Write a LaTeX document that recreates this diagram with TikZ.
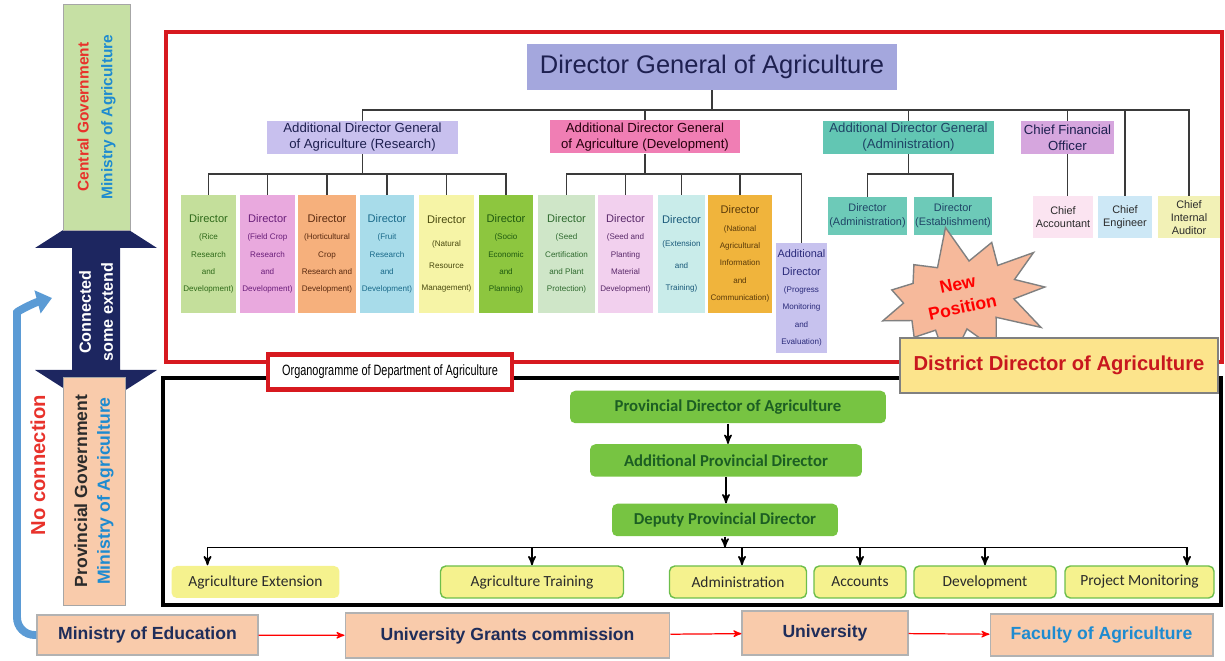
\documentclass[tikz,border=0pt]{standalone}
\usepackage{fontspec}
\usepackage{xcolor}
\usepackage{graphicx}
\setmainfont{Liberation Sans}
\newfontfamily\calibri{Carlito}
\usetikzlibrary{calc}
\usetikzlibrary{shapes,arrows,arrows.meta}
\usetikzlibrary{positioning}

\definecolor{govred}{HTML}{E8322B}
\definecolor{govblue}{HTML}{1E8BD0}
\definecolor{navy}{HTML}{1D2660}
\definecolor{frmred}{HTML}{D7191F}
\definecolor{skyarrow}{HTML}{5B9BD5}
\definecolor{peach}{HTML}{F9CBAB}
\definecolor{cgreen}{HTML}{C6E0A4}
\definecolor{darktxt}{HTML}{2B2B2B}
\definecolor{dgfill}{HTML}{A4A7DD}
\definecolor{dgtxt}{HTML}{1E2050}
\definecolor{resfill}{HTML}{C8C0EE}
\definecolor{devfill}{HTML}{F07EB4}
\definecolor{admfill}{HTML}{62C6B3}
\definecolor{admsub}{HTML}{6DCAB8}
\definecolor{admtxt}{HTML}{1F4466}
\definecolor{cfofill}{HTML}{D6A6DE}
\definecolor{accfill}{HTML}{FBE4F1}
\definecolor{engfill}{HTML}{CDE8F6}
\definecolor{audfill}{HTML}{F2F1B6}
\definecolor{ddafill}{HTML}{FCE48C}
\definecolor{ddared}{HTML}{C8171E}
\definecolor{starfill}{HTML}{F6B99B}
\definecolor{provgreen}{HTML}{77C442}
\definecolor{provtxt}{HTML}{1C5E23}
\definecolor{sectyellow}{HTML}{F5F28E}
\definecolor{sectgreen}{HTML}{6DBE4B}
\definecolor{edutxt}{HTML}{1F2D5A}
\definecolor{treeline}{HTML}{3A3A3A}

\newcommand{\fs}[2]{\fontsize{#1}{#2}\selectfont}
\newcommand{\Dhead}{{\fontsize{6.3}{9.9}\selectfont Director}}

\tikzstyle{govbox}=[rotate=90, draw=gray!70, line width=0.5pt, align=center, inner sep=1pt]
\tikzstyle{lvl}=[align=center, inner sep=1pt]
\tikzstyle{adg}=[align=center, inner sep=1pt, minimum height=0.66cm, font=\fs{7.5}{9}, text=dgtxt]
\tikzstyle{admdir}=[align=center, inner sep=0.5pt, fill=admsub, minimum width=1.58cm, minimum height=0.76cm, font=\fs{6.2}{8}, text=admtxt]
\tikzstyle{chief}=[align=center, inner sep=0.5pt, minimum height=0.84cm, font=\fs{6.2}{7.5}, text=darktxt]
\tikzstyle{dirbox}=[align=center, inner sep=0.5pt, minimum width=1.12cm, minimum height=2.36cm, font=\fs{4.6}{9.9}]
\tikzstyle{tree}=[draw=treeline, line width=1.1pt]
\tikzstyle{prov}=[fill=provgreen, rounded corners=3pt, text=provtxt, minimum height=0.65cm, font=\calibri\bfseries\fs{9.5}{11}]
\tikzstyle{sect}=[fill=sectyellow, draw=sectgreen, line width=0.8pt, rounded corners=3pt, minimum height=0.64cm, text=darktxt, font=\calibri\fs{8.8}{10}]
\tikzstyle{edu}=[fill=peach, draw=gray!60, line width=0.6pt, text=edutxt, font=\bfseries\fs{10}{12}]
\tikzstyle{arr}=[->, >=stealth', line width=0.9pt]

\begin{document}
\begin{tikzpicture}[x=0.02cm, y=-0.02cm]
\useasboundingbox (0,0) rectangle (1225,661);

% the two frames
\draw[line width=2.3pt, color=frmred] (166,32) rectangle (1222,362);
\draw[line width=2.3pt] (163,378) rectangle (1221,605);

% left column
\fill[navy] (96,209) -- (157,248) -- (120,248) -- (120,370) -- (157,370) -- (96,409)
  -- (35,370) -- (72,370) -- (72,248) -- (35,248) -- cycle;
\node[govbox, fill=cgreen, minimum width=4.52cm, minimum height=1.34cm, font=\bfseries\fs{8.8}{13.6}] (cg) at (96.5,117)
  {\textcolor{govred}{Central Government}\\\textcolor{govblue}{Ministry of Agriculture}};
\node[govbox, fill=peach, minimum width=4.56cm, minimum height=1.24cm, font=\bfseries\fs{10}{13}] (pg) at (94,491)
  {\textcolor{darktxt}{Provincial Government}\\\textcolor{govblue}{Ministry of Agriculture}};
\node[rotate=90, align=center, text=white, font=\bfseries\fs{9.2}{12.5}] (link) at (96,312) {Connected\\some extend};
\node[rotate=90, text=govred, font=\bfseries\fs{11.5}{13}] (nocon) at (38,465) {No connection};

% ministry of education line
\node[edu, minimum width=4.42cm, minimum height=0.8cm] (moe) at (147.5,635) {Ministry of Education};
\node[edu, minimum width=6.5cm, minimum height=0.9cm] (ugc) at (507.5,635.5) {University Grants commission};
\node[edu, minimum width=3.32cm, minimum height=0.88cm] (uni) at (825,633) {University};
\node[edu, minimum width=4.46cm, minimum height=0.84cm, text=govblue] (foa) at (1101.5,635) {Faculty of Agriculture};
\draw[->, >=stealth', color=red, line width=0.7pt] (moe) -- (ugc);
\draw[->, >=stealth', color=red, line width=0.7pt] (ugc) -- (uni);
\draw[->, >=stealth', color=red, line width=0.7pt] (uni) -- (foa);

\coordinate (noconn) at (52,298);
\draw[line width=4.5pt, color=skyarrow, rounded corners=10pt, -{Triangle[width=0.46cm, length=0.3cm]}]
  (moe.west) -- (17,635) -- (17,330) to[out=90, in=195] (noconn);

% national level
\node[lvl, fill=dgfill, minimum width=7.4cm, minimum height=0.92cm, text=dgtxt, font=\fs{14.5}{17}] (dg) at (712,67) {Director General of Agriculture};
\node[adg, fill=resfill, minimum width=3.82cm] (adgr) at (362.5,137.5) {Additional Director General\\of Agriculture (Research)};
\node[adg, fill=devfill, minimum width=3.8cm, text=black!80!purple] (adgd) at (645,137) {Additional Director General\\of Agriculture (Development)};
\node[adg, fill=admfill, minimum width=3.42cm, text=admtxt] (adga) at (908.5,137.5) {Additional Director General\\(Administration)};
\node[adg, fill=cfofill, minimum width=1.86cm] (cfo) at (1067.5,137.5) {Chief Financial\\Officer};

\node[chief, fill=accfill, minimum width=1.2cm] (cacc) at (1063,217.5) {Chief\\Accountant};
\node[chief, fill=engfill, minimum width=1.08cm] (ceng) at (1125,217.5) {Chief\\Engineer};
\node[chief, fill=audfill, minimum width=1.24cm] (caud) at (1189,217.5) {Chief\\Internal\\Auditor};

\node[admdir] (dadm) at (867.5,216) {Director\\(Administration)};
\node[admdir] (dest) at (953,216) {Director\\(Establishment)};

% research directors
\node[dirbox, fill={rgb,255:red,196;green,223;blue,155}, text={rgb,255:red,47;green,106;blue,26}] (drice) at (208.5,254) {\Dhead\\(Rice\\Research\\and\\Development)};
\node[dirbox, fill={rgb,255:red,233;green,169;blue,222}, text={rgb,255:red,106;green,31;blue,122}] (dfield) at (267.5,254) {\Dhead\\(Field Crop\\Research\\and\\Development)};
\node[dirbox, fill={rgb,255:red,246;green,176;blue,124}, text={rgb,255:red,90;green,42;blue,16}, minimum width=1.16cm] (dhort) at (327,254) {\Dhead\\(Horticultural\\Crop\\Research and\\Development)};
\node[dirbox, fill={rgb,255:red,168;green,220;blue,234}, text={rgb,255:red,26;green,106;blue,138}, minimum width=1.08cm] (dfruit) at (387,254) {\Dhead\\(Fruit\\Research\\and\\Development)};
\node[dirbox, fill={rgb,255:red,246;green,244;blue,166}, text={rgb,255:red,74;green,74;blue,16}, font=\fs{4.6}{12.6}] (dnat) at (446.5,254) {\Dhead\\(Natural\\Resource\\Management)};
\node[dirbox, fill={rgb,255:red,141;green,198;blue,63}, text={rgb,255:red,31;green,90;blue,16}, minimum width=1.08cm] (dsocio) at (506,254) {\Dhead\\(Socio\\Economic\\and\\Planning)};

% development directors
\node[dirbox, fill={rgb,255:red,207;green,230;blue,200}, text={rgb,255:red,47;green,106;blue,47}, minimum width=1.14cm] (dseed) at (566.5,254) {\Dhead\\(Seed\\Certification\\and Plant\\Protection)};
\node[dirbox, fill={rgb,255:red,242;green,208;blue,238}, text={rgb,255:red,90;green,42;blue,106}, minimum width=1.1cm] (dplant) at (625.5,254) {\Dhead\\(Seed and\\Planting\\Material\\Development)};
\node[dirbox, fill={rgb,255:red,201;green,236;blue,234}, text={rgb,255:red,26;green,90;blue,122}, minimum width=0.94cm, font=\fs{4.6}{12.6}] (dext) at (681.5,254) {\Dhead\\(Extension\\and\\Training)};
\node[dirbox, fill={rgb,255:red,240;green,180;blue,60}, text={rgb,255:red,90;green,58;blue,10}, minimum width=1.28cm] (dinfo) at (740,254) {\Dhead\\(National\\Agricultural\\Information\\and\\Communication)};
\node[dirbox, fill={rgb,255:red,199;green,194;blue,238}, text={rgb,255:red,42;green,42;blue,122}, minimum width=1.02cm, minimum height=2.2cm] (dprog) at (801.5,298)
  {{\fontsize{6.2}{9.9}\selectfont Additional}\\\Dhead\\(Progress\\Monitoring\\and\\Evaluation)};

% lines of the national level
\foreach \n in {adgr,adgd,adga,cfo,ceng,caud}
  \draw[tree] (dg.south) -- ++(0,20) -| (\n.north);
\foreach \n in {drice,dfield,dhort,dfruit,dnat,dsocio}
  \draw[tree] (adgr.south) -- ++(0,20) -| (\n.north);
\foreach \n in {dseed,dplant,dext,dinfo,dprog}
  \draw[tree] (adgd.south) -- ++(0,20) -| (\n.north);
\foreach \n in {dadm,dest}
  \draw[tree] (adga.south) -- ++(0,20) -| (\n.north);
\draw[tree] (cfo.south) -- (cfo.south |- cacc.north);

% provincial level
\node[prov, minimum width=6.32cm] (pda) at (728,407) {Provincial Director of Agriculture};
\node[prov, minimum width=5.44cm] (apd) at (726,460.5) {Additional Provincial Director};
\node[prov, minimum width=4.52cm] (dpd) at (725,520) {Deputy Provincial Director};
\draw[arr] (pda.south) -- (pda.south |- apd.north);
\draw[arr] (apd.south) -- (apd.south |- dpd.north);

\node[sect, draw=none, minimum width=3.36cm] (aext) at (255.5,582) {Agriculture Extension};
\node[sect, minimum width=3.66cm] (atrain) at (532,582) {Agriculture Training};
\node[sect, minimum width=2.74cm] (adm) at (738,582) {Administration};
\node[sect, minimum width=1.84cm] (acc) at (860,582) {Accounts};
\node[sect, minimum width=2.84cm] (adev) at (985,582) {Development};
\node[sect, minimum width=2.98cm] (apm) at (1139.5,582) {Project Monitoring};

\coordinate (bus) at ([yshift=-0.22cm]dpd.south);
\draw[arr] (dpd.south) -- (bus);
\draw[arr] (bus) -| ([xshift=-0.96cm]aext.north);
\draw[arr] (bus) -| (atrain.north);
\draw[arr] (bus) -| ([xshift=0.08cm]adm.north);
\draw[arr] (bus) -| (acc.north);
\draw[arr] (bus) -| (adev.north);
\draw[arr] (bus) -| ([xshift=0.95cm]apm.north);

% labels on the frames
\node[draw=frmred, line width=2.3pt, fill=white, minimum width=4.88cm, minimum height=0.7cm, inner sep=1pt] (orglbl) at (390,372)
  {\scalebox{0.73}[1]{\fs{8.5}{10}Organogramme of Department of Agriculture}};
\node[starburst, draw=gray, line width=0.8pt, fill=starfill, starburst points=11, starburst point height=0.8cm,
  random starburst=7, minimum width=3.7cm, minimum height=1.6cm, rotate=12, align=center,
  text=red, font=\bfseries\fs{10}{13.5}] (newpos) at (960,296) {New\\Position};
\node[draw=gray, line width=0.8pt, fill=ddafill, minimum width=6.36cm, minimum height=1.1cm, text=ddared, font=\bfseries\fs{11.5}{13}] (dda) at (1059,365.5) {District Director of Agriculture};

\end{tikzpicture}
\end{document}
